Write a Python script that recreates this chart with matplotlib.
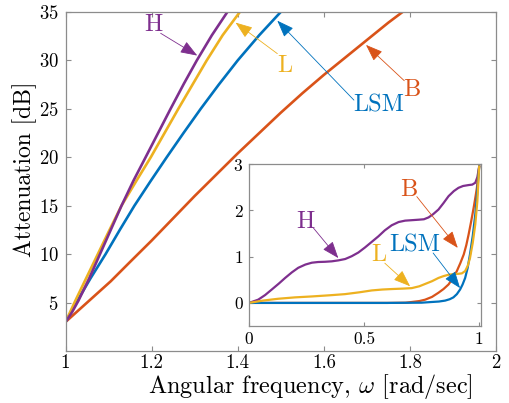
import matplotlib
matplotlib.use("Agg")
import matplotlib.pyplot as plt

plt.rcParams['font.family'] = ['cmr10', 'DejaVu Serif']
plt.rcParams['mathtext.fontset'] = 'cm'
plt.rcParams['axes.formatter.use_mathtext'] = True

# MATLAB default colours
BLUE = '#0072BD'
RED = '#D95319'
YELLOW = '#EDB120'
PURPLE = '#7E2F8E'
GRID = '#8c8c8c'

# main plot: attenuation [dB] vs angular frequency
h_x = [1.0, 1.015, 1.03, 1.055, 1.08, 1.105, 1.13, 1.158, 1.186, 1.215, 1.244, 1.275, 1.305, 1.34, 1.376]
h_y = [3.0, 4.0, 5.2, 7.5, 10.0, 12.5, 15.0, 17.6, 20.0, 22.5, 25.0, 27.6, 30.0, 32.6, 35.0]

l_x = [1.0, 1.025, 1.05, 1.075, 1.10, 1.13, 1.165, 1.198, 1.23, 1.262, 1.295, 1.328, 1.365, 1.405]
l_y = [3.0, 5.4, 7.7, 10.0, 12.3, 15.0, 17.6, 20.0, 22.5, 25.0, 27.5, 30.0, 32.6, 35.0]

lsm_x = [1.0, 1.025, 1.058, 1.093, 1.126, 1.16, 1.197, 1.235, 1.274, 1.314, 1.356, 1.40, 1.45, 1.50]
lsm_y = [3.0, 5.0, 7.5, 10.0, 12.5, 15.0, 17.5, 20.0, 22.5, 25.0, 27.5, 30.0, 32.6, 35.0]

b_x = [1.0, 1.025, 1.05, 1.075, 1.105, 1.15, 1.2, 1.25, 1.3, 1.35, 1.4, 1.45, 1.5, 1.55, 1.6, 1.65, 1.7, 1.75, 1.783]
b_y = [3.0, 4.0, 5.0, 6.0, 7.2, 9.2, 11.4, 13.7, 16.0, 18.2, 20.4, 22.5, 24.6, 26.6, 28.5, 30.3, 32.1, 33.9, 35.0]

x_ticks = [1, 1.2, 1.4, 1.6, 1.8, 2]
x_ticklabels = ['1', '1.2', '1.4', '1.6', '1.8', '2']
y_ticks = [5, 10, 15, 20, 25, 30, 35]

# inset: passband detail, normalised frequency 0..1
ih_x = [0.0, 0.04, 0.07, 0.099, 0.13, 0.157, 0.186, 0.214, 0.245, 0.273, 0.30, 0.33, 0.36, 0.388, 0.418,
        0.446, 0.475, 0.504, 0.533, 0.562, 0.59, 0.62, 0.65, 0.678, 0.707, 0.736, 0.76, 0.78, 0.80,
        0.823, 0.845, 0.867, 0.89, 0.91, 0.93, 0.954, 0.97, 0.983, 0.992, 1.0]
ih_y = [0.0, 0.07, 0.17, 0.29, 0.42, 0.54, 0.66, 0.76, 0.83, 0.87, 0.885, 0.89, 0.90, 0.92, 0.95,
        1.01, 1.09, 1.2, 1.32, 1.44, 1.57, 1.68, 1.75, 1.78, 1.79, 1.80, 1.81, 1.85, 1.92,
        2.02, 2.16, 2.31, 2.42, 2.49, 2.53, 2.55, 2.56, 2.6, 2.72, 2.95]

il_x = [0.0, 0.06, 0.127, 0.2, 0.273, 0.35, 0.417, 0.48, 0.533, 0.58, 0.62, 0.67, 0.707, 0.74,
        0.765, 0.795, 0.823, 0.845, 0.867, 0.89, 0.91, 0.925, 0.939, 0.95, 0.96, 0.972, 0.983, 0.992, 1.0]
il_y = [0.0, 0.05, 0.09, 0.12, 0.14, 0.165, 0.19, 0.23, 0.27, 0.29, 0.30, 0.31, 0.32, 0.36,
        0.41, 0.47, 0.54, 0.58, 0.61, 0.625, 0.63, 0.64, 0.69, 0.8, 0.97, 1.3, 1.7, 2.2, 2.95]

ib_x = [0.0, 0.3, 0.6, 0.68, 0.707, 0.74, 0.765, 0.795, 0.823, 0.845, 0.867, 0.885, 0.903, 0.918,
        0.933, 0.944, 0.954, 0.965, 0.976, 0.984, 0.99, 1.0]
ib_y = [0.0, 0.0, 0.0, 0.005, 0.02, 0.04, 0.07, 0.13, 0.22, 0.3, 0.40, 0.53, 0.69, 0.86,
        1.05, 1.25, 1.48, 1.76, 2.06, 2.3, 2.49, 2.95]

ilsm_x = [0.0, 0.3, 0.6, 0.75, 0.794, 0.825, 0.852, 0.872, 0.888, 0.903, 0.917, 0.928, 0.939,
          0.95, 0.96, 0.972, 0.983, 0.99, 1.0]
ilsm_y = [0.0, 0.0, 0.0, 0.005, 0.02, 0.03, 0.05, 0.08, 0.12, 0.19, 0.29, 0.4, 0.54,
          0.76, 1.05, 1.45, 1.91, 2.3, 2.95]

i_x_ticks = [0, 0.5, 1]
i_x_ticklabels = ['0', '0.5', '1']
i_y_ticks = [0, 1, 2, 3]

fig = plt.figure(figsize=(5.10, 4.03), dpi=100)
ax = fig.add_axes([0.1285, 0.129, 0.8440, 0.8413])

for xs, ys, c in [(b_x, b_y, RED), (lsm_x, lsm_y, BLUE), (l_x, l_y, YELLOW), (h_x, h_y, PURPLE)]:
    ax.plot(xs, ys, color=c, lw=1.9, solid_capstyle='butt')

ax.set_xlim(1, 2)
ax.set_ylim(0, 35)
ax.set_xticks(x_ticks)
ax.set_xticklabels(x_ticklabels)
ax.set_yticks(y_ticks)
ax.tick_params(direction='in', length=3.5, width=0.8, color=GRID, labelsize=13.5,
               top=True, right=True, pad=5)
ax.tick_params(axis='x', pad=2)
for s in ax.spines.values():
    s.set_color(GRID)
    s.set_linewidth(0.9)
ax.set_xlabel(r'Angular frequency, $\omega$ [rad/sec]', fontsize=17.5)
ax.set_ylabel('Attenuation [dB]', fontsize=17)
ax.xaxis.set_label_coords(0.57, -0.062)
ax.yaxis.set_label_coords(-0.066, 0.537)


def label(a, text, pos, tail, tip, color, size=17.5):
    a.text(pos[0], pos[1], text, color=color, fontsize=size, ha='center', va='center')
    a.annotate('', xy=tip, xytext=tail,
               arrowprops=dict(arrowstyle='-|>,head_length=0.75,head_width=0.28',
                               color=color, lw=0.6, mutation_scale=14, shrinkA=0, shrinkB=0))


label(ax, 'H', (1.203, 33.7), (1.221, 32.8), (1.306, 30.5), PURPLE)
label(ax, 'L', (1.51, 29.4), (1.492, 30.7), (1.395, 33.9), YELLOW)
label(ax, 'LSM', (1.727, 25.3), (1.67, 25.9), (1.492, 34.1), BLUE)
label(ax, 'B', (1.804, 27.0), (1.787, 27.9), (1.698, 31.6), RED)

# inset
ins = fig.add_axes([0.4882, 0.191, 0.4559, 0.4014])
ins.set_facecolor('white')
for xs, ys, c in [(ih_x, ih_y, PURPLE), (ib_x, ib_y, RED), (ilsm_x, ilsm_y, BLUE), (il_x, il_y, YELLOW)]:
    ins.plot(xs, ys, color=c, lw=1.6)
ins.set_xlim(0, 1.01)
ins.set_ylim(-0.5, 3)
ins.set_xticks(i_x_ticks)
ins.set_xticklabels(i_x_ticklabels)
ins.set_yticks(i_y_ticks)
ins.tick_params(direction='in', length=3, width=0.8, color=GRID, labelsize=12.5,
                top=True, right=True, pad=4)
for s in ins.spines.values():
    s.set_color(GRID)
    s.set_linewidth(0.9)

label(ins, 'H', (0.243, 1.76), (0.28, 1.62), (0.388, 0.97), PURPLE)
label(ins, 'L', (0.562, 1.04), (0.59, 0.86), (0.70, 0.36), YELLOW)
label(ins, 'B', (0.693, 2.45), (0.729, 2.30), (0.907, 1.19), RED)
label(ins, 'LSM', (0.722, 1.245), (0.80, 1.08), (0.917, 0.32), BLUE)

fig.savefig('out.png', dpi=100)
